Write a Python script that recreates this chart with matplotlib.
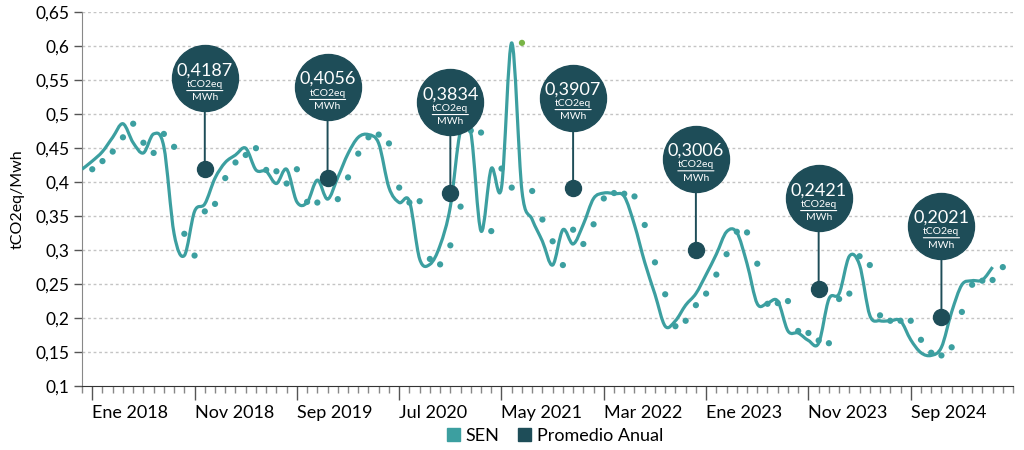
import numpy as np
import matplotlib
matplotlib.use("Agg")
import matplotlib.pyplot as plt
from matplotlib.patches import Patch, PathPatch
from matplotlib.path import Path
from matplotlib.ticker import FixedLocator, FuncFormatter
from matplotlib.transforms import offset_copy

plt.rcParams['font.family'] = ['Lato', 'DejaVu Sans']

# monthly emission factor SEN (tCO2eq/MWh), Jan 2018 .. Jun 2025
sen = [0.419, 0.431, 0.445, 0.466, 0.486, 0.458, 0.443, 0.471, 0.452, 0.324,
       0.292, 0.357, 0.368, 0.406, 0.429, 0.440, 0.450, 0.418, 0.416, 0.398,
       0.419, 0.371, 0.370, 0.403, 0.375, 0.407, 0.442, 0.466, 0.470, 0.457,
       0.392, 0.370, 0.372, 0.287, 0.279, 0.307, 0.364, 0.476, 0.473, 0.328,
       0.420, 0.392, 0.605, 0.387, 0.345, 0.313, 0.278, 0.330, 0.309, 0.338,
       0.376, 0.384, 0.383, 0.379, 0.337, 0.282, 0.235, 0.188, 0.196, 0.219,
       0.236, 0.264, 0.294, 0.327, 0.326, 0.280, 0.221, 0.222, 0.225, 0.181,
       0.178, 0.167, 0.163, 0.228, 0.236, 0.291, 0.278, 0.204, 0.196, 0.196,
       0.196, 0.168, 0.149, 0.145, 0.157, 0.209, 0.249, 0.255, 0.256, 0.275]

# annual averages, placed at December of each year
prom_anual = [0.4187, 0.4056, 0.3834, 0.3907, 0.3006, 0.2421, 0.2021]
prom_mes = [11, 23, 35, 47, 59, 71, 83]

meses = ['Ene', 'Feb', 'Mar', 'Abr', 'May', 'Jun',
         'Jul', 'Ago', 'Sep', 'Oct', 'Nov', 'Dic']

TEAL = '#3c9fa0'
DARK = '#1e4d58'
GREEN = '#79b446'

sen = np.array(sen)
mes = np.arange(len(sen))


def smooth_path(x, y):
    """Bezier path through every point (Catmull-Rom style handles)."""
    pts = np.column_stack([x, y])
    verts = [pts[0]]
    codes = [Path.MOVETO]
    n = len(pts)
    for i in range(n - 1):
        p0 = pts[max(i - 1, 0)]
        p1 = pts[i]
        p2 = pts[i + 1]
        p3 = pts[min(i + 2, n - 1)]
        verts += [p1 + (p2 - p0) / 6, p2 - (p3 - p1) / 6, p2]
        codes += [Path.CURVE4] * 3
    return Path(verts, codes)


fig = plt.figure(figsize=(10.24, 4.5), dpi=100)
ax = fig.add_axes([0.0801, 0.1422, 0.9092, 0.8305])

# line is drawn one month ahead of the dots, as in the original
ax.add_patch(PathPatch(smooth_path(mes - 1, sen), fill=False, edgecolor=TEAL,
                       lw=2.3, joinstyle='round', zorder=3))
dot_colors = [GREEN if v == sen.max() else TEAL for v in sen]
ax.scatter(mes, sen, s=20, c=dot_colors, zorder=4, linewidths=0)

# annual average markers with bubbles
up = offset_copy(ax.transData, fig=fig, x=0, y=65.5, units='points')
for m, v in zip(prom_mes, prom_anual):
    ax.annotate('', xy=(m, v), xytext=(0, 65.5), textcoords='offset points',
                arrowprops=dict(arrowstyle='-', color=DARK, lw=1.4,
                                shrinkA=0, shrinkB=0), zorder=5)
    ax.plot(m, v, 'o', ms=11.5, color=DARK, zorder=6)
    ax.plot(m, v, 'o', ms=47.5, color=DARK, transform=up, zorder=7,
            clip_on=False)
    txt = f"{v:.4f}".replace('.', ',')
    ax.annotate(txt, xy=(m, v), xytext=(0, 71.5), textcoords='offset points',
                ha='center', va='center', color='white', fontsize=13,
                zorder=8, annotation_clip=False)
    ax.annotate('tCO2eq', xy=(m, v), xytext=(0, 61), textcoords='offset points',
                ha='center', va='center', color='white', fontsize=7.5,
                zorder=8, annotation_clip=False)
    ax.annotate('MWh', xy=(m, v), xytext=(0, 51.5), textcoords='offset points',
                ha='center', va='center', color='white', fontsize=7.5,
                zorder=8, annotation_clip=False)
    left = offset_copy(ax.transData, fig=fig, x=-13, y=56.8, units='points')
    right = offset_copy(ax.transData, fig=fig, x=13, y=56.8, units='points')
    ax.annotate('', xy=(m, v), xycoords=right, xytext=(m, v), textcoords=left,
                arrowprops=dict(arrowstyle='-', color='white', lw=0.8,
                                shrinkA=0, shrinkB=0), zorder=8,
                annotation_clip=False)

# axes
ax.set_xlim(-1, 90)
ax.set_ylim(0.1, 0.65)
ax.set_yticks(np.arange(0.1, 0.651, 0.05))
ax.yaxis.set_major_formatter(FuncFormatter(
    lambda v, p: f"{v:.2f}".rstrip('0').replace('.', ',')))
for y in np.arange(0.15, 0.651, 0.05):
    ax.axhline(y, color='#c4c4c4', lw=1, ls=(0, (2, 2)), zorder=1)

major = np.arange(0, 81, 10)
ax.xaxis.set_major_locator(FixedLocator(major))
ax.xaxis.set_minor_locator(FixedLocator(np.arange(-1, 91)))
ax.set_xticklabels([f"{meses[k % 12]} {2018 + k // 12}" for k in major],
                   ha='left')
ax.tick_params(axis='x', which='major', length=10, width=1, color='#555555',
               labelsize=13, pad=4)
ax.tick_params(axis='x', which='minor', length=5, width=1, color='#888888')
ax.tick_params(axis='y', length=6, width=1, color='#555555', labelsize=12.5,
               pad=3)

for s in ['top', 'right']:
    ax.spines[s].set_visible(False)
ax.spines['left'].set_color('#888888')
ax.spines['bottom'].set_color('#333333')
ax.set_ylabel('tCO2eq/Mwh', fontsize=11.5, labelpad=8)

handles = [Patch(color=TEAL, label='SEN'),
           Patch(color=DARK, label='Promedio Anual')]
fig.legend(handles=handles, loc='center', bbox_to_anchor=(0.542, 0.031),
           ncol=2, frameon=False, fontsize=13, handlelength=0.75,
           handleheight=0.75, handletextpad=0.3, columnspacing=1.0)

fig.savefig('out.png', dpi=100)
